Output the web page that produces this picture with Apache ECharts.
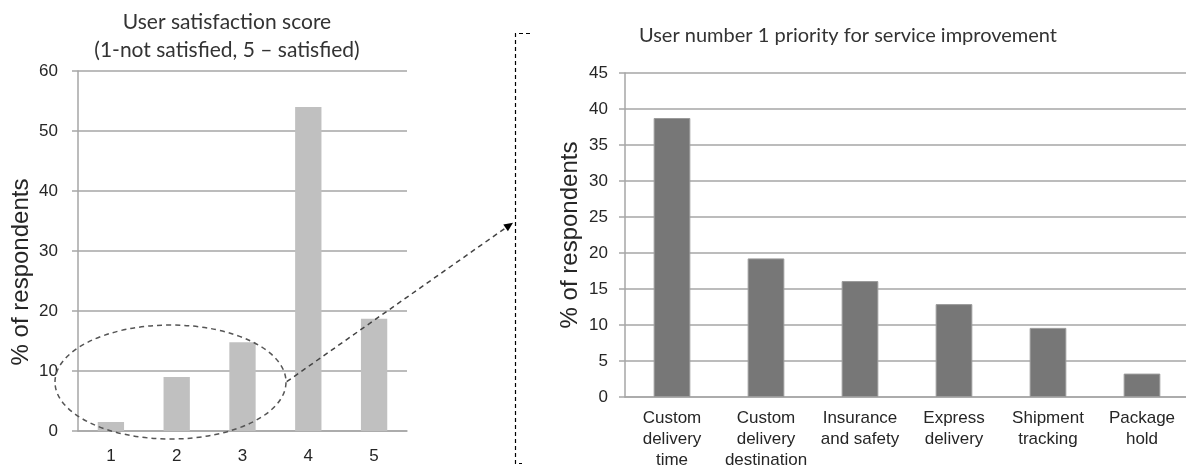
<!DOCTYPE html>
<html>
<head>
<meta charset="utf-8">
<script src="https://cdn.jsdelivr.net/npm/echarts@6/dist/echarts.min.js"></script>
<style>
  html, body { margin: 0; padding: 0; background: #fff; }
  #main { width: 1186px; height: 468px; }
</style>
</head>
<body>
<div id="main"></div>
<script>
// left chart: satisfaction score
var scoreCats = ['1', '2', '3', '4', '5'];
var scoreVals = [1.5, 9, 14.8, 54, 18.7];

// right chart: top priority
var prioCats = [
  'Custom\ndelivery\ntime',
  'Custom\ndelivery\ndestination',
  'Insurance\nand safety',
  'Express\ndelivery',
  'Shipment\ntracking',
  'Package\nhold'
];
var prioVals = [38.75, 19.25, 16.1, 12.9, 9.6, 3.25];

var gridGray = '#a6a6a6';
var txt = '#262626';
var tickFont = '"Liberation Sans", Arial, sans-serif';
var titleFont = 'Lato, "Open Sans", sans-serif';

var myChart = echarts.init(document.getElementById('main'));

function yAxisOpt(idx, max, interval, margin, gap, pad) {
  return {
    type: 'value', gridIndex: idx, min: 0, max: max, interval: interval,
    name: '% of respondents', nameLocation: 'middle', nameGap: gap,
    nameTextStyle: {fontFamily: tickFont, fontSize: 24, color: txt, padding: pad},
    axisLine: {show: true, lineStyle: {color: gridGray, width: 1.5}},
    axisTick: {show: true, length: 6, lineStyle: {color: gridGray, width: 1.5}},
    axisLabel: {fontFamily: tickFont, fontSize: 17, color: txt, margin: margin},
    splitLine: {lineStyle: {color: gridGray, width: 1.5}}
  };
}

myChart.setOption({
  animation: false,
  backgroundColor: '#fff',
  title: [
    {
      text: 'User satisfaction score\n(1-not satisfied, 5 \u2013 satisfied)',
      left: 222, top: 3, textAlign: 'center',
      textStyle: {fontFamily: titleFont, fontWeight: 'normal', fontSize: 21, color: '#333', lineHeight: 28}
    },
    {
      text: 'User number 1 priority for service improvement',
      left: 843, top: 21, textAlign: 'center',
      textStyle: {fontFamily: titleFont, fontWeight: 'normal', fontSize: 20, color: '#333'}
    }
  ],
  grid: [
    {left: 78, top: 71, width: 329, height: 360, outerBoundsMode: 'none', containLabel: false},
    {left: 625, top: 73, width: 564, height: 324, outerBoundsMode: 'none', containLabel: false}
  ],
  xAxis: [
    {
      type: 'category', gridIndex: 0, data: scoreCats,
      axisLine: {lineStyle: {color: gridGray, width: 1.5}},
      axisTick: {length: 7, lineStyle: {color: gridGray, width: 1.5}},
      axisLabel: {fontFamily: tickFont, fontSize: 17, color: txt, margin: 17}
    },
    {
      type: 'category', gridIndex: 1, data: prioCats,
      axisLine: {lineStyle: {color: gridGray, width: 1.5}},
      axisTick: {length: 6, lineStyle: {color: gridGray, width: 1.5}},
      axisLabel: {fontFamily: tickFont, fontSize: 17, color: txt, margin: 11, lineHeight: 21, interval: 0}
    }
  ],
  yAxis: [
    yAxisOpt(0, 60, 10, 20, 45, [0, 42, 0, 0]),
    yAxisOpt(1, 45, 5, 17, 43, 0)
  ],
  series: [
    {
      type: 'bar', xAxisIndex: 0, yAxisIndex: 0, data: scoreVals,
      barWidth: '40%',
      itemStyle: {color: '#c0c0c0'}
    },
    {
      type: 'bar', xAxisIndex: 1, yAxisIndex: 1, data: prioVals,
      barWidth: '39%',
      itemStyle: {color: '#777777', borderColor: '#9a9a9a', borderWidth: 1}
    }
  ],
  graphic: [
    {
      type: 'ellipse', z: 100,
      shape: {cx: 170.5, cy: 382, rx: 115.5, ry: 57},
      style: {fill: 'none', stroke: '#555', lineWidth: 1.5, lineDash: [5, 4]}
    },
    {
      type: 'line', z: 100,
      shape: {x1: 286.7, y1: 381.7, x2: 505.6, y2: 227.9},
      style: {stroke: '#444', lineWidth: 1.5, lineDash: [5, 4]}
    },
    {
      type: 'polygon', z: 100,
      shape: {points: [[513, 222.7], [507.9, 231.2], [503.3, 224.6]]},
      style: {fill: '#000'}
    },
    {
      type: 'polyline', z: 100,
      shape: {points: [[530, 33.5], [515.5, 33.5], [515.5, 463.5], [522, 463.5]]},
      style: {stroke: '#000', fill: 'none', lineWidth: 1.2, lineDash: [4, 3]}
    }
  ]
});
</script>
</body>
</html>
